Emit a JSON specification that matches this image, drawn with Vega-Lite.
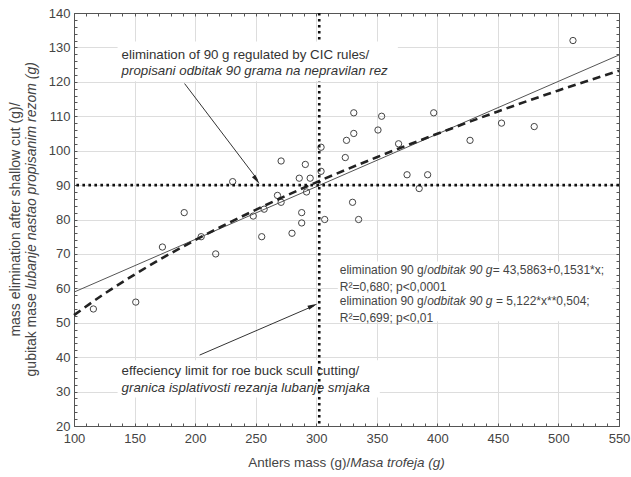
{
  "$schema": "https://vega.github.io/schema/vega-lite/v6.json",
  "width": 545,
  "height": 413,
  "padding": {"left": 74, "top": 13, "right": 12, "bottom": 51},
  "autosize": {"type": "none"},
  "background": "white",
  "config": {"view": {"stroke": "#555", "strokeWidth": 1}, "font": "Liberation Sans"},
  "datasets": {
    "points": [
      {"x": 116, "y": 54}, {"x": 151, "y": 56}, {"x": 173, "y": 72}, {"x": 191, "y": 82},
      {"x": 205, "y": 75}, {"x": 217, "y": 70}, {"x": 231, "y": 91}, {"x": 248, "y": 81},
      {"x": 255, "y": 75}, {"x": 257, "y": 83}, {"x": 268, "y": 87}, {"x": 271, "y": 85},
      {"x": 271, "y": 97}, {"x": 280, "y": 76}, {"x": 286, "y": 92}, {"x": 288, "y": 82},
      {"x": 288, "y": 79}, {"x": 291, "y": 96}, {"x": 292, "y": 88}, {"x": 295, "y": 92},
      {"x": 304, "y": 101}, {"x": 304, "y": 94}, {"x": 307, "y": 80}, {"x": 324, "y": 98},
      {"x": 325, "y": 103}, {"x": 330, "y": 85}, {"x": 331, "y": 105}, {"x": 331, "y": 111},
      {"x": 335, "y": 80}, {"x": 351, "y": 106}, {"x": 354, "y": 110}, {"x": 368, "y": 102},
      {"x": 375, "y": 93}, {"x": 385, "y": 89}, {"x": 392, "y": 93}, {"x": 397, "y": 111},
      {"x": 427, "y": 103}, {"x": 453, "y": 108}, {"x": 480, "y": 107}, {"x": 512, "y": 132}
    ],
    "linear": [{"x": 100, "y": 58.9}, {"x": 550, "y": 127.8}],
    "power": [
      {"x": 100, "y": 52.2}, {"x": 125, "y": 58.4}, {"x": 150, "y": 64.0}, {"x": 175, "y": 69.2},
      {"x": 200, "y": 74.0}, {"x": 250, "y": 82.8}, {"x": 300, "y": 90.8}, {"x": 350, "y": 98.1},
      {"x": 400, "y": 104.9}, {"x": 450, "y": 111.4}, {"x": 500, "y": 117.5}, {"x": 550, "y": 123.2}
    ],
    "boxesUnder": [
      {"x": 136, "x2": 352.5, "y": 28.3, "y2": 39.1},
      {"x": 317.8, "x2": 544.2, "y": 50.4, "y2": 67.8}
    ],
    "boxesOver": [{"x": 136, "x2": 367.4, "y": 120.15, "y2": 131.75}],
    "vref": [{"v": 302.5}],
    "href": [{"v": 90}],
    "arrows": [
      {"x": 191.3, "y": 119.5, "x2": 251.5, "y2": 91.6},
      {"x": 203.7, "y": 40.6, "x2": 298.5, "y2": 55.0}
    ],
    "head1": [{"x": 250.8, "y": 91.5}],
    "head2": [{"x": 297.2, "y": 54.95}],
    "annNormal": [
      {"x": 139.3, "y": 127.9, "t": "elimination of 90 g regulated by CIC rules/"},
      {"x": 139.3, "y": 35.97, "t": "effeciency limit for roe buck scull cutting/"}
    ],
    "annItalic": [
      {"x": 139.3, "y": 123.05, "t": "propisani odbitak 90 grama na nepravilan rez"},
      {"x": 139.3, "y": 31.15, "t": "granica isplativosti rezanja lubanje smjaka"}
    ],
    "eqNormal": [
      {"x": 319.4, "y": 65.2, "t": "elimination 90 g/"},
      {"x": 445.7, "y": 65.2, "t": "= 43,5863+0,1531*x;"},
      {"x": 319.4, "y": 60.35, "t": "R²=0,680; p<0,0001"},
      {"x": 319.4, "y": 56.3, "t": "elimination 90 g/"},
      {"x": 448.4, "y": 56.3, "t": "= 5,122*x**0,504;"},
      {"x": 319.4, "y": 51.46, "t": "R²=0,699; p<0,01"}
    ],
    "eqItalic": [
      {"x": 391.6, "y": 65.2, "t": "odbitak 90 g"},
      {"x": 391.6, "y": 56.3, "t": "odbitak 90 g"}
    ],
    "xtN": [{"x": 243.8, "y": 9.17, "t": "Antlers mass (g)/"}],
    "xtI": [{"x": 328.1, "y": 9.17, "t": "Masa trofeja (g)"}],
    "yt1": [{"x": 52.5, "y": 80, "t": "mass elimination after shallow cut (g)/"}],
    "yt2N": [{"x": 65.7, "y": 34.4, "t": "gubitak mase"}],
    "yt2I": [{"x": 65.7, "y": 59.7, "t": "lubanje nastao propisanim rezom (g)"}]
  },
  "resolve": {"axis": {"x": "independent", "y": "independent"}},
  "layer": [
    {
      "data": {"name": "boxesUnder"},
      "mark": {"type": "rect", "fill": "white", "stroke": null},
      "encoding": {
        "x": {"field": "x", "type": "quantitative", "scale": {"domain": [100, 550], "nice": false, "zero": false}, "axis": null},
        "x2": {"field": "x2"},
        "y": {"field": "y", "type": "quantitative", "scale": {"domain": [20, 140], "nice": false, "zero": false}, "axis": null},
        "y2": {"field": "y2"}
      }
    },
    {
      "data": {"name": "points"},
      "mark": {"type": "point", "filled": false, "stroke": "#444", "strokeWidth": 1, "size": 40, "opacity": 1},
      "encoding": {
        "x": {"field": "x", "type": "quantitative", "scale": {"domain": [100, 550], "nice": false, "zero": false},
          "axis": {"orient": "bottom", "title": null,
            "values": [100,110,120,130,140,150,160,170,180,190,200,210,220,230,240,250,260,270,280,290,300,310,320,330,340,350,360,370,380,390,400,410,420,430,440,450,460,470,480,490,500,510,520,530,540,550],
            "labelExpr": "datum.value % 50 === 0 ? datum.label : ''",
            "labelOverlap": false, "labelFlush": false, "labelBound": false,
            "labelFontSize": 13, "labelColor": "#444", "labelFont": "Liberation Sans", "labelPadding": 9,
            "grid": true, "gridColor": "#dddddd", "gridWidth": 1,
            "gridOpacity": {"condition": {"test": "datum.value % 50 === 0", "value": 1}, "value": 0},
            "tickSize": -3, "tickColor": "#555", "domainColor": "#555"}},
        "y": {"field": "y", "type": "quantitative", "scale": {"domain": [20, 140], "nice": false, "zero": false},
          "axis": {"orient": "left", "title": null,
            "values": [20,22,24,26,28,30,32,34,36,38,40,42,44,46,48,50,52,54,56,58,60,62,64,66,68,70,72,74,76,78,80,82,84,86,88,90,92,94,96,98,100,102,104,106,108,110,112,114,116,118,120,122,124,126,128,130,132,134,136,138,140],
            "labelExpr": "datum.value % 10 === 0 ? datum.label : ''",
            "labelOverlap": false, "labelFlush": false, "labelBound": false,
            "labelFontSize": 13, "labelColor": "#444", "labelFont": "Liberation Sans", "labelPadding": 7,
            "grid": true, "gridColor": "#dddddd", "gridWidth": 1,
            "gridOpacity": {"condition": {"test": "datum.value % 10 === 0", "value": 1}, "value": 0},
            "tickSize": -3, "tickColor": "#555", "domainColor": "#555"}}
      }
    },
    {
      "data": {"name": "linear"},
      "mark": {"type": "line", "stroke": "#555", "strokeWidth": 1},
      "encoding": {
        "x": {"field": "x", "type": "quantitative", "scale": {"domain": [100, 550], "nice": false, "zero": false},
          "axis": {"orient": "top", "title": null, "labels": false, "grid": false,
            "values": [100,110,120,130,140,150,160,170,180,190,200,210,220,230,240,250,260,270,280,290,300,310,320,330,340,350,360,370,380,390,400,410,420,430,440,450,460,470,480,490,500,510,520,530,540,550],
            "tickSize": -3, "tickColor": "#555", "domainColor": "#555"}},
        "y": {"field": "y", "type": "quantitative", "scale": {"domain": [20, 140], "nice": false, "zero": false},
          "axis": {"orient": "right", "title": null, "labels": false, "grid": false,
            "values": [20,22,24,26,28,30,32,34,36,38,40,42,44,46,48,50,52,54,56,58,60,62,64,66,68,70,72,74,76,78,80,82,84,86,88,90,92,94,96,98,100,102,104,106,108,110,112,114,116,118,120,122,124,126,128,130,132,134,136,138,140],
            "tickSize": -3, "tickColor": "#555", "domainColor": "#555"}}
      }
    },
    {
      "data": {"name": "power"},
      "mark": {"type": "line", "stroke": "#222", "strokeWidth": 2.6, "strokeDash": [8, 5], "interpolate": "monotone"},
      "encoding": {
        "x": {"field": "x", "type": "quantitative", "scale": {"domain": [100, 550], "nice": false, "zero": false}, "axis": null},
        "y": {"field": "y", "type": "quantitative", "scale": {"domain": [20, 140], "nice": false, "zero": false}, "axis": null}
      }
    },
    {
      "data": {"name": "vref"},
      "mark": {"type": "rule", "stroke": "#111", "strokeWidth": 2.6, "strokeDash": [2.6, 3.4]},
      "encoding": {
        "x": {"field": "v", "type": "quantitative", "scale": {"domain": [100, 550], "nice": false, "zero": false}, "axis": null}
      }
    },
    {
      "data": {"name": "href"},
      "mark": {"type": "rule", "stroke": "#111", "strokeWidth": 2.6, "strokeDash": [2.6, 3.4]},
      "encoding": {
        "y": {"field": "v", "type": "quantitative", "scale": {"domain": [20, 140], "nice": false, "zero": false}, "axis": null}
      }
    },
    {
      "data": {"name": "boxesOver"},
      "mark": {"type": "rect", "fill": "white", "stroke": null},
      "encoding": {
        "x": {"field": "x", "type": "quantitative", "scale": {"domain": [100, 550], "nice": false, "zero": false}, "axis": null},
        "x2": {"field": "x2"},
        "y": {"field": "y", "type": "quantitative", "scale": {"domain": [20, 140], "nice": false, "zero": false}, "axis": null},
        "y2": {"field": "y2"}
      }
    },
    {
      "data": {"name": "arrows"},
      "mark": {"type": "rule", "stroke": "#333", "strokeWidth": 1},
      "encoding": {
        "x": {"field": "x", "type": "quantitative", "scale": {"domain": [100, 550], "nice": false, "zero": false}, "axis": null},
        "x2": {"field": "x2"},
        "y": {"field": "y", "type": "quantitative", "scale": {"domain": [20, 140], "nice": false, "zero": false}, "axis": null},
        "y2": {"field": "y2"}
      }
    },
    {
      "data": {"name": "head1"},
      "mark": {"type": "point", "shape": "M0,-1L0.42,1L-0.42,1Z", "filled": true, "color": "#222", "strokeWidth": 0, "size": 100, "angle": 143, "opacity": 1},
      "encoding": {
        "x": {"field": "x", "type": "quantitative", "scale": {"domain": [100, 550], "nice": false, "zero": false}, "axis": null},
        "y": {"field": "y", "type": "quantitative", "scale": {"domain": [20, 140], "nice": false, "zero": false}, "axis": null}
      }
    },
    {
      "data": {"name": "head2"},
      "mark": {"type": "point", "shape": "M0,-1L0.42,1L-0.42,1Z", "filled": true, "color": "#222", "strokeWidth": 0, "size": 100, "angle": 66, "opacity": 1},
      "encoding": {
        "x": {"field": "x", "type": "quantitative", "scale": {"domain": [100, 550], "nice": false, "zero": false}, "axis": null},
        "y": {"field": "y", "type": "quantitative", "scale": {"domain": [20, 140], "nice": false, "zero": false}, "axis": null}
      }
    },
    {
      "data": {"name": "annNormal"},
      "mark": {"type": "text", "align": "left", "baseline": "middle", "fontSize": 13.3, "font": "Liberation Sans", "color": "#333"},
      "encoding": {
        "x": {"field": "x", "type": "quantitative", "scale": {"domain": [100, 550], "nice": false, "zero": false}, "axis": null},
        "y": {"field": "y", "type": "quantitative", "scale": {"domain": [20, 140], "nice": false, "zero": false}, "axis": null},
        "text": {"field": "t"}
      }
    },
    {
      "data": {"name": "annItalic"},
      "mark": {"type": "text", "align": "left", "baseline": "middle", "fontSize": 13.3, "fontStyle": "italic", "font": "Liberation Sans", "color": "#333"},
      "encoding": {
        "x": {"field": "x", "type": "quantitative", "scale": {"domain": [100, 550], "nice": false, "zero": false}, "axis": null},
        "y": {"field": "y", "type": "quantitative", "scale": {"domain": [20, 140], "nice": false, "zero": false}, "axis": null},
        "text": {"field": "t"}
      }
    },
    {
      "data": {"name": "eqNormal"},
      "mark": {"type": "text", "align": "left", "baseline": "middle", "fontSize": 12, "font": "Liberation Sans", "color": "#444"},
      "encoding": {
        "x": {"field": "x", "type": "quantitative", "scale": {"domain": [100, 550], "nice": false, "zero": false}, "axis": null},
        "y": {"field": "y", "type": "quantitative", "scale": {"domain": [20, 140], "nice": false, "zero": false}, "axis": null},
        "text": {"field": "t"}
      }
    },
    {
      "data": {"name": "eqItalic"},
      "mark": {"type": "text", "align": "left", "baseline": "middle", "fontSize": 12, "fontStyle": "italic", "font": "Liberation Sans", "color": "#444"},
      "encoding": {
        "x": {"field": "x", "type": "quantitative", "scale": {"domain": [100, 550], "nice": false, "zero": false}, "axis": null},
        "y": {"field": "y", "type": "quantitative", "scale": {"domain": [20, 140], "nice": false, "zero": false}, "axis": null},
        "text": {"field": "t"}
      }
    },
    {
      "data": {"name": "xtN"},
      "mark": {"type": "text", "align": "left", "baseline": "middle", "fontSize": 13.5, "font": "Liberation Sans", "color": "#444"},
      "encoding": {
        "x": {"field": "x", "type": "quantitative", "scale": {"domain": [100, 550], "nice": false, "zero": false}, "axis": null},
        "y": {"field": "y", "type": "quantitative", "scale": {"domain": [20, 140], "nice": false, "zero": false}, "axis": null},
        "text": {"field": "t"}
      }
    },
    {
      "data": {"name": "xtI"},
      "mark": {"type": "text", "align": "left", "baseline": "middle", "fontSize": 13.5, "fontStyle": "italic", "font": "Liberation Sans", "color": "#444"},
      "encoding": {
        "x": {"field": "x", "type": "quantitative", "scale": {"domain": [100, 550], "nice": false, "zero": false}, "axis": null},
        "y": {"field": "y", "type": "quantitative", "scale": {"domain": [20, 140], "nice": false, "zero": false}, "axis": null},
        "text": {"field": "t"}
      }
    },
    {
      "data": {"name": "yt1"},
      "mark": {"type": "text", "align": "center", "baseline": "middle", "angle": 270, "fontSize": 14, "font": "Liberation Sans", "color": "#444"},
      "encoding": {
        "x": {"field": "x", "type": "quantitative", "scale": {"domain": [100, 550], "nice": false, "zero": false}, "axis": null},
        "y": {"field": "y", "type": "quantitative", "scale": {"domain": [20, 140], "nice": false, "zero": false}, "axis": null},
        "text": {"field": "t"}
      }
    },
    {
      "data": {"name": "yt2N"},
      "mark": {"type": "text", "align": "left", "baseline": "middle", "angle": 270, "fontSize": 14, "font": "Liberation Sans", "color": "#444"},
      "encoding": {
        "x": {"field": "x", "type": "quantitative", "scale": {"domain": [100, 550], "nice": false, "zero": false}, "axis": null},
        "y": {"field": "y", "type": "quantitative", "scale": {"domain": [20, 140], "nice": false, "zero": false}, "axis": null},
        "text": {"field": "t"}
      }
    },
    {
      "data": {"name": "yt2I"},
      "mark": {"type": "text", "align": "left", "baseline": "middle", "angle": 270, "fontSize": 14, "fontStyle": "italic", "font": "Liberation Sans", "color": "#444"},
      "encoding": {
        "x": {"field": "x", "type": "quantitative", "scale": {"domain": [100, 550], "nice": false, "zero": false}, "axis": null},
        "y": {"field": "y", "type": "quantitative", "scale": {"domain": [20, 140], "nice": false, "zero": false}, "axis": null},
        "text": {"field": "t"}
      }
    }
  ]
}
